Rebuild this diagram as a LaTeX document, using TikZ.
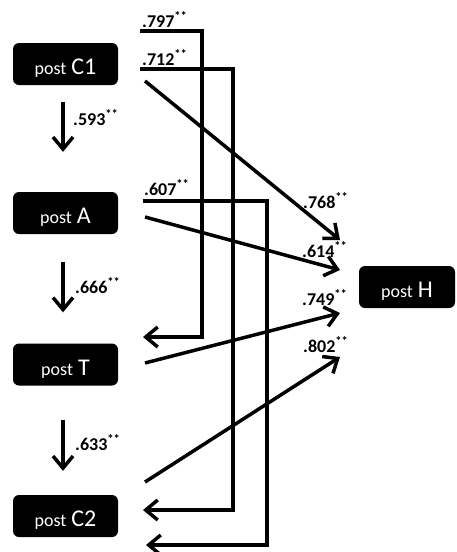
\documentclass[tikz,border=0pt]{standalone}
\usepackage{fontspec}
\setmainfont{Carlito}
\usetikzlibrary{arrows.meta}
\newcommand\boxtxt[2]{{\fontsize{18}{20}\selectfont #1}\hspace{5pt}{\fontsize{24}{26}\selectfont #2}}
\newcommand\coef[1]{#1\textsuperscript{**}}
\begin{document}
\begin{tikzpicture}[x=1pt,y=-1pt,
  box/.style={fill=black,text=white,rounded corners=6pt,minimum width=105pt,minimum height=42pt,inner sep=0pt,text height=21pt,text depth=0pt},
  conn/.style={line width=3.5pt,-{Straight Barb[length=12pt,width=20pt]}},
  lbl/.style={font=\fontsize{18}{20}\selectfont\bfseries,inner sep=0pt,anchor=base west}]
\useasboundingbox (0,0) rectangle (457,552);
% boxes
\node[box] (c1) at (65.5,64) {\boxtxt{post}{C1}};
\node[box] (a) at (65.5,213) {\boxtxt{post}{A}};
\node[box] (t) at (65.5,364.5) {\boxtxt{post}{T}};
\node[box] (c2) at (65.5,516) {\boxtxt{post}{C2}};
\node[box,minimum width=96pt] (h) at (407,287) {\boxtxt{post}{H}};
% vertical arrows
\draw[conn,shorten <=17pt,shorten >=40pt] ([xshift=-2.5pt]c1.south) -- ([xshift=-2.5pt]a.north);
\draw[conn,shorten <=28pt,shorten >=31pt] ([xshift=-2.5pt]a.south) -- ([xshift=-2.5pt]t.north);
\draw[conn,shorten <=34pt,shorten >=24pt] ([xshift=-2.5pt]t.south) -- ([xshift=-2.5pt]c2.north);
\node[lbl] (l593) at (73,125) {\coef{.593}};
\node[lbl] (l666) at (75,293) {\coef{.666}};
\node[lbl] (l633) at (75,450) {\coef{.633}};
% bracket arrows
\coordinate (s797) at (140,31);
\coordinate (e797) at (143,337);
\coordinate (s712) at (140,69);
\coordinate (e712) at (143,510);
\coordinate (s607) at (143,201);
\coordinate (e607) at (146,545);
\draw[conn] (s797) -- ++(62,0) |- (e797);
\draw[conn] (s712) -- ++(93,0) |- (e712);
\draw[conn] (s607) -- ++(124,0) |- (e607);
\node[lbl] (l797) at (142,27) {\coef{.797}};
\node[lbl] (l712) at (142,65) {\coef{.712}};
\node[lbl] (l607) at (144,195) {\coef{.607}};
% diagonal arrows to H
\coordinate (d1) at (145,81);
\coordinate (d2) at (145,217);
\coordinate (d3) at (145,363);
\coordinate (d4) at (145,482);
\coordinate (h1) at (340,240);
\coordinate (h2) at (340,270);
\coordinate (h3) at (340,313);
\coordinate (h4) at (340,357);
\draw[conn] (d1) -- (h1);
\draw[conn] (d2) -- (h2);
\draw[conn] (d3) -- (h3);
\draw[conn] (d4) -- (h4);
\node[lbl] (l768) at (303,208) {\coef{.768}};
\node[lbl] (l614) at (302,257) {\coef{.614}};
\node[lbl] (l749) at (302,305) {\coef{.749}};
\node[lbl] (l802) at (303,352) {\coef{.802}};
\end{tikzpicture}
\end{document}
